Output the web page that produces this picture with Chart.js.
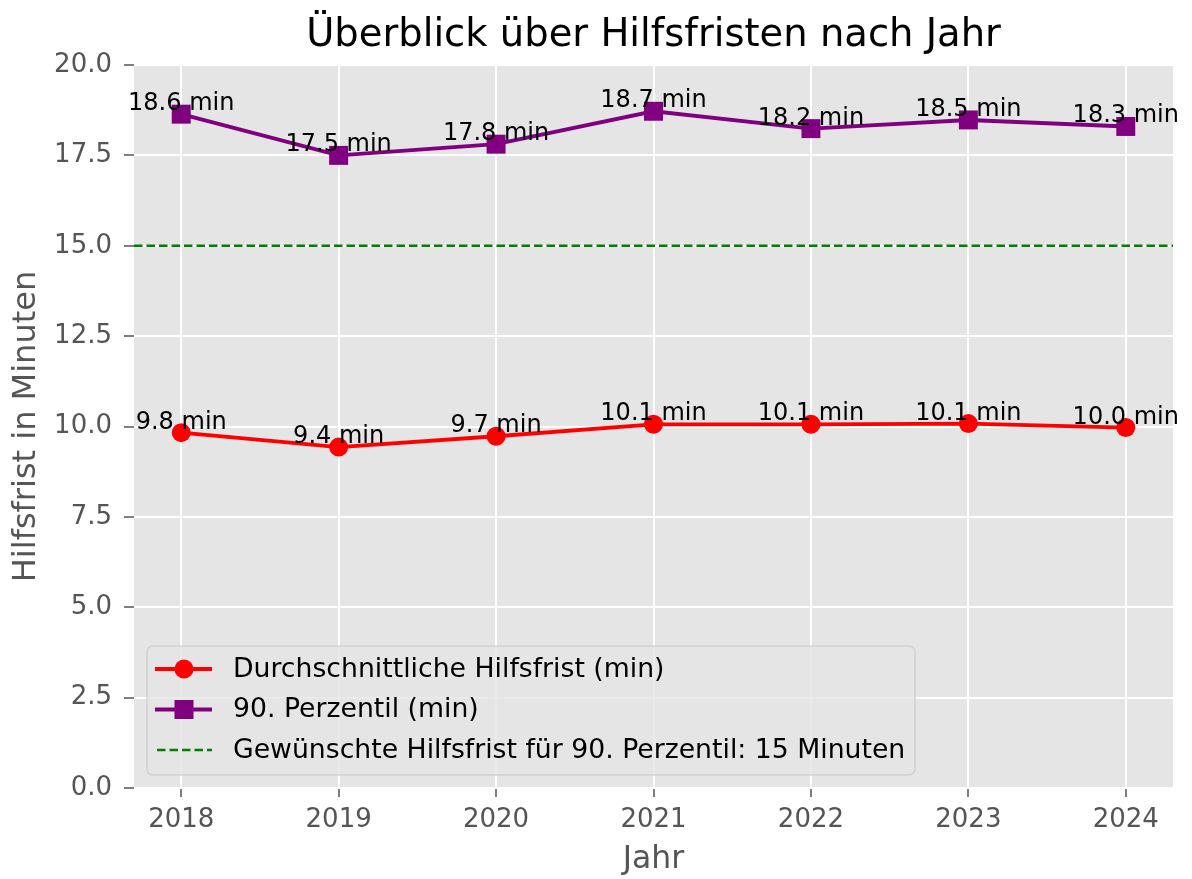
<!DOCTYPE html>
<html>
<head>
<meta charset="utf-8">
<script src="https://cdn.jsdelivr.net/npm/chart.js@4/dist/chart.umd.min.js"></script>
<style>
  html, body { margin: 0; padding: 0; background: #fff; }
  #wrap { width: 1192px; height: 879px; }
</style>
</head>
<body>
<div id="wrap"><canvas id="hilfsfristChart" width="1192" height="879"></canvas></div>
<script>
// values
const years = [2018, 2019, 2020, 2021, 2022, 2023, 2024];
const avgMinutes = [9.83, 9.43, 9.73, 10.06, 10.06, 10.08, 9.97];
const p90Minutes = [18.64, 17.50, 17.81, 18.72, 18.24, 18.48, 18.30];
const targetMinutes = 15;
const yTicks = [0, 2.5, 5, 7.5, 10, 12.5, 15, 17.5, 20];

const xMin = 2017.7;
const xMax = 2024.3;
const FONT = "'DejaVu Sans', sans-serif";

const toPoints = (vals) => years.map((yr, i) => ({ x: yr, y: vals[i] }));

// grey panel behind the grid, like the ggplot style
const panelBg = {
    id: 'panelBg',
    beforeDraw(chart) {
        const { ctx, chartArea: a } = chart;
        ctx.save();
        ctx.fillStyle = '#ffffff';
        ctx.fillRect(0, 0, chart.width, chart.height);
        ctx.fillStyle = '#E5E5E5';
        ctx.fillRect(a.left, a.top, a.right - a.left, a.bottom - a.top);
        ctx.restore();
    }
};

// "xx.x min" text above each point
const pointLabels = {
    id: 'pointLabels',
    afterDatasetsDraw(chart) {
        const ctx = chart.ctx;
        ctx.save();
        ctx.font = '24px ' + FONT;
        ctx.fillStyle = '#000';
        ctx.textAlign = 'center';
        ctx.textBaseline = 'alphabetic';
        chart.data.datasets.forEach((ds, i) => {
            if (!ds.showLabels) return;
            chart.getDatasetMeta(i).data.forEach((pt, j) => {
                ctx.fillText(ds.data[j].y.toFixed(1) + ' min', pt.x, pt.y - 4);
            });
        });
        ctx.restore();
    }
};

// legend inside the plot, lower left
const insideLegend = {
    id: 'insideLegend',
    afterDraw(chart) {
        const ctx = chart.ctx;
        const box = { x: 147, y: 646, w: 768, h: 129, r: 6 };
        ctx.save();
        ctx.beginPath();
        ctx.roundRect(box.x, box.y, box.w, box.h, box.r);
        ctx.fillStyle = 'rgba(229,229,229,0.8)';
        ctx.fill();
        ctx.lineWidth = 1.5;
        ctx.strokeStyle = 'rgba(204,204,204,0.8)';
        ctx.stroke();

        const rowY = [669, 709.5, 750];
        ctx.font = '26.7px ' + FONT;
        ctx.textAlign = 'left';
        ctx.textBaseline = 'middle';
        chart.data.datasets.forEach((ds, i) => {
            const y = rowY[i];
            ctx.beginPath();
            ctx.setLineDash(ds.borderDash || []);
            ctx.lineWidth = ds.borderWidth;
            ctx.strokeStyle = ds.borderColor;
            ctx.moveTo(ds.borderDash ? 157 : 155, y);
            ctx.lineTo(212, y);
            ctx.stroke();
            ctx.setLineDash([]);
            ctx.fillStyle = ds.borderColor;
            if (ds.pointStyle === 'circle') {
                ctx.beginPath();
                ctx.arc(184, y, 9.5, 0, Math.PI * 2);
                ctx.fill();
            } else if (ds.pointStyle === 'rect') {
                ctx.fillRect(184 - 9.5, y - 9.5, 19, 19);
            }
            ctx.fillStyle = '#000';
            ctx.fillText(ds.label, 233, y + 1);
        });
        ctx.restore();
    }
};

const ctx = document.getElementById('hilfsfristChart').getContext('2d');

new Chart(ctx, {
    type: 'line',
    data: {
        datasets: [
            {
                label: 'Durchschnittliche Hilfsfrist (min)',
                data: toPoints(avgMinutes),
                borderColor: '#FF0000',
                backgroundColor: '#FF0000',
                borderWidth: 3.9,
                pointStyle: 'circle',
                pointRadius: 9.5,
                pointBorderWidth: 0,
                tension: 0,
                showLabels: true
            },
            {
                label: '90. Perzentil (min)',
                data: toPoints(p90Minutes),
                borderColor: '#800080',
                backgroundColor: '#800080',
                borderWidth: 3.9,
                pointStyle: 'rect',
                pointRadius: 13.4,
                pointBorderWidth: 0,
                tension: 0,
                showLabels: true
            },
            {
                label: 'Gewünschte Hilfsfrist für 90. Perzentil: ' + targetMinutes + ' Minuten',
                data: [{ x: xMin, y: targetMinutes }, { x: xMax, y: targetMinutes }],
                borderColor: '#008000',
                borderWidth: 2.4,
                borderDash: [8.5, 4],
                pointRadius: 0,
                tension: 0
            }
        ]
    },
    options: {
        responsive: false,
        animation: false,
        events: [],
        devicePixelRatio: 1,
        layout: { padding: { left: 0, right: 19, top: 0, bottom: 0 } },
        plugins: {
            legend: { display: false },
            tooltip: { enabled: false },
            title: {
                display: true,
                fullSize: false,
                text: 'Überblick über Hilfsfristen nach Jahr',
                color: '#000',
                font: { family: FONT, size: 38.5, weight: 'normal' },
                padding: { top: 13, bottom: 5.8 }
            }
        },
        scales: {
            x: {
                type: 'linear',
                min: xMin,
                max: xMax,
                afterBuildTicks: (axis) => { axis.ticks = years.map(v => ({ value: v })); },
                afterFit: (axis) => { axis.height = 91; },
                ticks: {
                    color: '#555555',
                    font: { family: FONT, size: 26 },
                    padding: 8,
                    callback: (v) => String(v)
                },
                grid: {
                    color: '#ffffff',
                    lineWidth: 2,
                    tickColor: '#555555',
                    tickLength: 9,
                    tickWidth: 1.5
                },
                border: { display: false },
                title: {
                    display: true,
                    text: 'Jahr',
                    color: '#555555',
                    font: { family: FONT, size: 31.5 },
                    padding: { top: 0, bottom: 0 }
                }
            },
            y: {
                min: 0,
                max: 20,
                afterBuildTicks: (axis) => { axis.ticks = yTicks.map(v => ({ value: v })); },
                afterFit: (axis) => { axis.width = 134; },
                ticks: {
                    color: '#555555',
                    font: { family: FONT, size: 26 },
                    padding: 12,
                    callback: (v) => v.toFixed(1)
                },
                grid: {
                    color: '#ffffff',
                    lineWidth: 2,
                    tickColor: '#555555',
                    tickLength: 10,
                    tickWidth: 1.5
                },
                border: { display: false },
                title: {
                    display: true,
                    text: 'Hilfsfrist in Minuten',
                    color: '#555555',
                    font: { family: FONT, size: 32 },
                    padding: { top: 7, bottom: 0 }
                }
            }
        }
    },
    plugins: [panelBg, pointLabels, insideLegend]
});
</script>
</body>
</html>
